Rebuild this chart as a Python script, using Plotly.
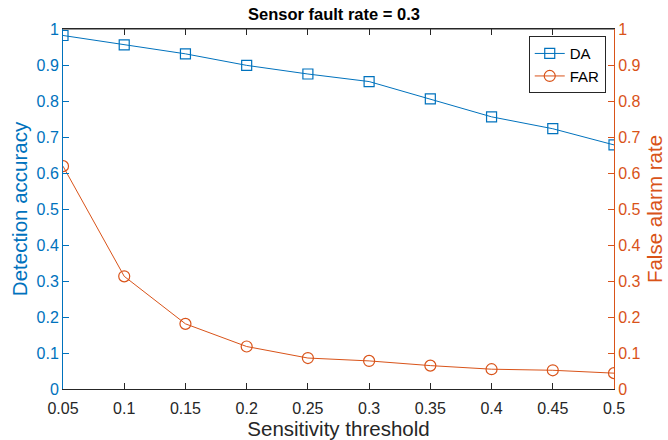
import plotly.graph_objects as go

thresholds = [0.05, 0.1, 0.15, 0.2, 0.25, 0.3, 0.35, 0.4, 0.45, 0.5]
da = [0.982, 0.956, 0.931, 0.899, 0.875, 0.854, 0.806, 0.756, 0.723, 0.678]
far = [0.619, 0.313, 0.181, 0.118, 0.086, 0.078, 0.065, 0.055, 0.052, 0.044]
x_ticks = [0.05, 0.1, 0.15, 0.2, 0.25, 0.3, 0.35, 0.4, 0.45, 0.5]
x_ticklabels = ["0.05", "0.1", "0.15", "0.2", "0.25", "0.3", "0.35", "0.4", "0.45", "0.5"]
y_ticks = [0, 0.1, 0.2, 0.3, 0.4, 0.5, 0.6, 0.7, 0.8, 0.9, 1]
y_ticklabels = ["0", "0.1", "0.2", "0.3", "0.4", "0.5", "0.6", "0.7", "0.8", "0.9", "1"]

BLUE = "#0072BD"
ORANGE = "#D95319"
GRAY = "#262626"
FONT = "Liberation Sans, Arial, sans-serif"

fig = go.Figure()
fig.add_trace(go.Scatter(x=thresholds, y=da, name="DA", mode="lines+markers",
                         line=dict(color=BLUE, width=1),
                         marker=dict(symbol="square-open", size=10, color=BLUE, line=dict(width=1.2))))
fig.add_trace(go.Scatter(x=thresholds, y=far, name="FAR", mode="lines+markers", yaxis="y2",
                         line=dict(color=ORANGE, width=1),
                         marker=dict(symbol="circle-open", size=11, color=ORANGE, line=dict(width=1.2))))

fig.update_layout(
    width=668, height=440,
    margin=dict(l=63, r=54, t=29, b=51),
    paper_bgcolor="white", plot_bgcolor="white",
    font=dict(family=FONT, size=16, color=GRAY),
    title=dict(text="<b>Sensor fault rate = 0.3</b>", x=0.5, xanchor="center",
               y=1 - 14 / 440, yanchor="middle", font=dict(size=16.5, color="black")),
    xaxis=dict(range=[0.05, 0.5], tickvals=x_ticks, ticktext=x_ticklabels, automargin=False,
               showgrid=False, zeroline=False, showline=True, linecolor=GRAY, linewidth=1,
               mirror="ticks", ticks="inside", ticklen=6, tickcolor=GRAY,
               ticklabelstandoff=5,
               tickfont=dict(size=16, color=GRAY),
               title=dict(text="Sensitivity threshold", font=dict(size=20.5, color=GRAY), standoff=0)),
    yaxis=dict(range=[0, 1], tickvals=y_ticks, ticktext=y_ticklabels, automargin=False,
               showgrid=False, zeroline=False, showline=True, linecolor=BLUE, linewidth=1,
               ticks="inside", ticklen=6, tickcolor=BLUE,
               tickfont=dict(size=16, color=BLUE),
               title=dict(text="Detection accuracy", font=dict(size=20.5, color=BLUE), standoff=3)),
    yaxis2=dict(range=[0, 1], tickvals=y_ticks, ticktext=y_ticklabels, overlaying="y", side="right",
                automargin=False,
                showgrid=False, zeroline=False, showline=True, linecolor=ORANGE, linewidth=1,
                ticks="inside", ticklen=6, tickcolor=ORANGE,
                tickfont=dict(size=16, color=ORANGE),
                title=dict(text="False alarm rate", font=dict(size=20.5, color=ORANGE), standoff=8)),
    legend=dict(x=0.985, y=0.98, xanchor="right", yanchor="top",
                bgcolor="white", bordercolor=GRAY, borderwidth=1,
                font=dict(size=15, color="black"), tracegroupgap=0, itemwidth=30),
    showlegend=True,
)
# top border
fig.add_shape(type="line", xref="paper", yref="paper", x0=0, x1=1, y0=1, y1=1,
              line=dict(color=GRAY, width=1))

fig.write_html("out.html")
